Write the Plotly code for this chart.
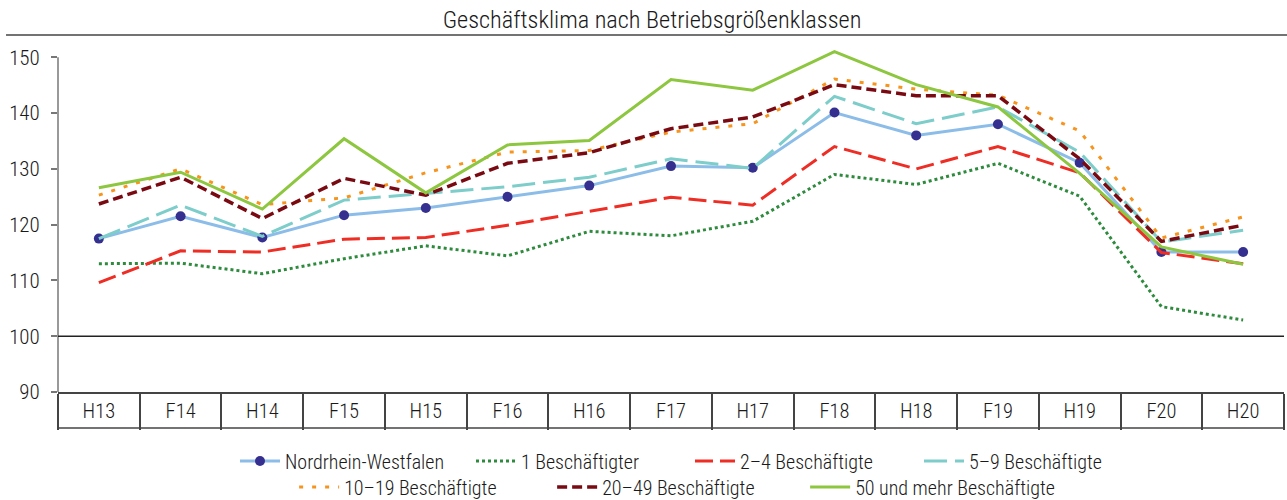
import plotly.graph_objects as go

# Halbjahre (F = Frühjahr, H = Herbst)
halbjahre = ["H13", "F14", "H14", "F15", "H15", "F16", "H16", "F17", "H17",
             "F18", "H18", "F19", "H19", "F20", "H20"]

nrw = [117.5, 121.5, 117.7, 121.7, 123.0, 125.0, 127.0, 130.5, 130.2,
       140.1, 136.0, 138.0, 131.1, 115.1, 115.1]
b1 = [113.0, 113.1, 111.2, 113.9, 116.2, 114.4, 118.8, 118.0, 120.6,
      129.0, 127.2, 131.0, 125.1, 105.3, 102.9]
b2_4 = [109.6, 115.3, 115.1, 117.4, 117.7, 119.9, 122.4, 124.9, 123.5,
        134.0, 130.0, 134.0, 129.3, 115.0, 113.0]
b5_9 = [117.5, 123.5, 117.9, 124.4, 125.6, 126.8, 128.5, 131.8, 130.1,
        143.0, 138.1, 141.1, 133.0, 116.9, 119.0]
b10_19 = [125.3, 130.0, 123.6, 124.8, 129.3, 133.0, 133.3, 136.6, 138.1,
          146.1, 144.3, 143.2, 136.8, 117.6, 121.4]
b20_49 = [123.7, 128.5, 121.1, 128.3, 125.3, 131.0, 132.9, 137.2, 139.3,
          145.1, 143.1, 143.1, 131.8, 117.0, 119.9]
b50 = [126.6, 129.4, 122.8, 135.4, 125.7, 134.3, 135.1, 146.0, 144.1,
       151.0, 145.1, 141.1, 129.2, 116.0, 112.9]

FONT = "Roboto Condensed Light, Roboto Condensed, Liberation Sans Narrow, sans-serif"

fig = go.Figure()

# NRW zuerst, wird unter den anderen Linien gezeichnet
fig.add_trace(go.Scatter(x=halbjahre, y=nrw, name="Nordrhein-Westfalen",
                         mode="lines+markers", legend="legend", legendwidth=181,
                         line=dict(color="#8BBDE8", width=3),
                         marker=dict(color="#35308F", size=10)))
fig.add_trace(go.Scatter(x=halbjahre, y=b1, name="1 Beschäftigter",
                         mode="lines", legend="legend", legendwidth=164,
                         line=dict(color="#2E8B3D", width=3, dash="3px,3px")))
fig.add_trace(go.Scatter(x=halbjahre, y=b2_4, name="2–4 Beschäftigte",
                         mode="lines", legend="legend", legendwidth=174,
                         line=dict(color="#EE2D24", width=3, dash="18px,7px")))
fig.add_trace(go.Scatter(x=halbjahre, y=b5_9, name="5–9 Beschäftigte",
                         mode="lines", legend="legend",
                         line=dict(color="#7DCDCB", width=3, dash="23px,8px")))
fig.add_trace(go.Scatter(x=halbjahre, y=b10_19, name="10–19 Beschäftigte",
                         mode="lines", legend="legend2", legendwidth=203,
                         line=dict(color="#F7941D", width=3, dash="4px,9px")))
fig.add_trace(go.Scatter(x=halbjahre, y=b20_49, name="20–49 Beschäftigte",
                         mode="lines", legend="legend2", legendwidth=198,
                         line=dict(color="#7A0A12", width=3.5, dash="10px,5px")))
fig.add_trace(go.Scatter(x=halbjahre, y=b50, name="50 und mehr Beschäftigte",
                         mode="lines", legend="legend2",
                         line=dict(color="#8DC63F", width=3)))

box_h = -36 / 357  # Höhe der Tabellenzeile unter der Achse (paper)

fig.update_layout(
    width=1287, height=500,
    margin=dict(l=58, r=3, t=35, b=108),
    paper_bgcolor="white", plot_bgcolor="white",
    font=dict(family=FONT, size=19, color="#1a1a1a"),
    title=dict(text="Geschäftsklima nach Betriebsgrößenklassen",
               xref="container", x=652 / 1287, xanchor="center",
               y=1 - 19 / 500, yanchor="middle",
               yref="container", font=dict(size=24.3, color="#1a1a1a")),
    xaxis=dict(type="category", range=[-0.5, 14.5], showgrid=False,
               automargin=False,
               showline=True, linecolor="#444", linewidth=1.5,
               ticks="outside", tickson="boundaries", ticklen=36,
               tickcolor="#444", tickwidth=1.5, ticklabelstandoff=0,
               tickfont=dict(size=20.5)),
    yaxis=dict(range=[90, 154], dtick=10, tick0=90, showgrid=False,
               automargin=False,
               zeroline=False, showline=False, ticks="outside", ticklen=6,
               tickcolor="#777", tickwidth=1.5, ticklabelstandoff=7,
               tickfont=dict(size=21)),
    legend=dict(orientation="h", x=0.5, xanchor="center",
                yref="container", y=1 - 461 / 500, yanchor="middle",
                bgcolor="rgba(0,0,0,0)",
                font=dict(size=20), itemwidth=40, tracegroupgap=0),
    legend2=dict(orientation="h", x=0.505, xanchor="center",
                 yref="container", y=1 - 487 / 500, yanchor="middle",
                 bgcolor="rgba(0,0,0,0)",
                 font=dict(size=20), itemwidth=40, tracegroupgap=0),
    shapes=[
        # Linie unter dem Titel
        dict(type="line", xref="paper", yref="paper", x0=-0.0424, x1=1.003,
             y0=1, y1=1, line=dict(color="#444", width=1.5)),
        # y-Achse von 90 bis 150
        dict(type="line", xref="paper", yref="y", x0=0, x1=0, y0=90, y1=150,
             line=dict(color="#777", width=1.5)),
        # Bezugslinie 100
        dict(type="line", xref="paper", yref="y", x0=0, x1=1, y0=100, y1=100,
             line=dict(color="#222", width=1.5)),
        # Unterkante der Kategorienzeile
        dict(type="line", xref="paper", yref="paper", x0=0, x1=1,
             y0=box_h, y1=box_h, line=dict(color="#444", width=1.5)),
    ],
)

# Standardrand des Browsers entfernen, damit die Figur bei (0,0) beginnt
fig.write_html("out.html", config={"displayModeBar": False},
               post_script="document.body.style.margin='0px';")
